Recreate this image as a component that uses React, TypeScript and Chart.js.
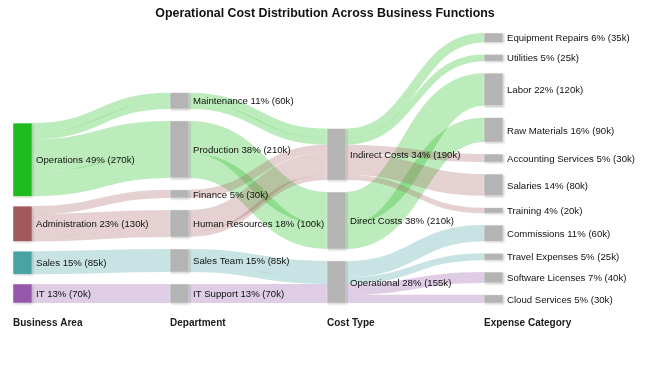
import React, { useEffect, useRef } from 'react';
import { Chart, registerables } from 'chart.js';

Chart.register(...registerables);

const chartTitle = 'Operational Cost Distribution Across Business Functions';
const columnTitles = ['Business Area', 'Department', 'Cost Type', 'Expense Category'];

const businessAreas = ['Operations', 'Administration', 'Sales', 'IT'];
const departments = ['Maintenance', 'Production', 'Finance', 'Human Resources', 'Sales Team', 'IT Support'];
const costTypes = ['Indirect Costs', 'Direct Costs', 'Operational'];
const expenseCategories = [
  'Equipment Repairs', 'Utilities', 'Labor', 'Raw Materials', 'Accounting Services',
  'Salaries', 'Training', 'Commissions', 'Travel Expenses', 'Software Licenses', 'Cloud Services',
];
// value (k) of each expense category; each one is a path through the four columns
const expenseValues = [35, 25, 120, 90, 30, 80, 20, 60, 25, 40, 30];
const pathArea = [0, 0, 0, 0, 1, 1, 1, 2, 2, 3, 3];
const pathDept = [0, 0, 1, 1, 2, 3, 3, 4, 4, 5, 5];
const pathCost = [0, 0, 1, 1, 0, 0, 0, 2, 2, 2, 2];

const areaColors = ['#1fbc1f', '#a05a5a', '#4aa3a3', '#9757ab'];
const areaLinkColors = [
  'rgba(34,190,34,0.30)',
  'rgba(160,90,90,0.28)',
  'rgba(74,163,163,0.30)',
  'rgba(150,85,170,0.30)',
];
const nodeGray = '#b4b4b4';
const FONT = '"Liberation Sans", Arial, sans-serif';

export default function App() {
  const ref = useRef<HTMLCanvasElement>(null);

  useEffect(() => {
    if (!ref.current) return;
    const columns = [businessAreas, departments, costTypes, expenseCategories];
    const pathIdx = [pathArea, pathDept, pathCost, expenseCategories.map((_, i) => i)];
    const sum = (a: number[]) => a.reduce((s, v) => s + v, 0);
    const total = sum(expenseValues);
    const nodeVals = columns.map((col, c) =>
      col.map((_, n) => expenseValues.reduce((s, v, p) => s + (pathIdx[c][p] === n ? v : 0), 0))
    );
    const colPad = [36, 44, 44, 44];
    const NODE_W = 19;
    const colExtent = nodeVals.map((v, c) => sum(v) + (v.length - 1) * colPad[c]);
    const YMAX = Math.max(...colExtent);
    const nodeY0 = nodeVals.map((vals, c) => {
      let y = YMAX - colExtent[c];
      return vals.map((v) => {
        const y0 = y;
        y += v + colPad[c];
        return y0;
      });
    });

    const sankeyPlugin = {
      id: 'sankey',
      afterDatasetsDraw(chart: any) {
        const { ctx, scales } = chart;
        const xs = scales.x;
        const ys = scales.y;
        const px = (c: number) => xs.getPixelForValue(c);
        const py = (v: number) => ys.getPixelForValue(v);
        ctx.save();
        // title
        ctx.fillStyle = '#111';
        ctx.font = `bold 12.4px ${FONT}`;
        ctx.textAlign = 'center';
        ctx.textBaseline = 'middle';
        ctx.fillText(chartTitle, chart.width / 2, 14);
        // links
        for (let c = 0; c < columns.length - 1; c++) {
          const src = pathIdx[c];
          const tgt = pathIdx[c + 1];
          const paths = expenseValues.map((_, p) => p);
          const srcTop: number[] = [];
          const tgtTop: number[] = [];
          const bySrc = [...paths].sort((a, b) => src[a] - src[b] || tgt[a] - tgt[b] || a - b);
          const offS = nodeY0[c].slice();
          bySrc.forEach((p) => {
            srcTop[p] = offS[src[p]];
            offS[src[p]] += expenseValues[p];
          });
          const byTgt = [...paths].sort((a, b) => tgt[a] - tgt[b] || src[a] - src[b] || a - b);
          const offT = nodeY0[c + 1].slice();
          byTgt.forEach((p) => {
            tgtTop[p] = offT[tgt[p]];
            offT[tgt[p]] += expenseValues[p];
          });
          paths.forEach((p) => {
            const v = expenseValues[p];
            const x0 = px(c) + NODE_W;
            const x1 = px(c + 1);
            const y0 = py(srcTop[p] + v / 2);
            const y1 = py(tgtTop[p] + v / 2);
            const xm = (x0 + x1) / 2;
            ctx.beginPath();
            ctx.moveTo(x0, y0);
            ctx.bezierCurveTo(xm, y0, xm, y1, x1, y1);
            ctx.lineWidth = Math.abs(py(v) - py(0));
            ctx.lineCap = 'butt';
            ctx.strokeStyle = areaLinkColors[pathArea[p]];
            ctx.stroke();
          });
        }
        // nodes
        columns.forEach((col, c) => {
          col.forEach((name, n) => {
            const v = nodeVals[c][n];
            const top = py(nodeY0[c][n]);
            const h = Math.abs(py(v) - py(0));
            const x = px(c);
            ctx.save();
            ctx.shadowColor = 'rgba(0,0,0,0.25)';
            ctx.shadowBlur = 2;
            ctx.shadowOffsetX = 1;
            ctx.shadowOffsetY = 1;
            ctx.fillStyle = c === 0 ? areaColors[n] : nodeGray;
            ctx.fillRect(x, top, NODE_W, h);
            ctx.restore();
            ctx.strokeStyle = 'rgba(255,255,255,0.7)';
            ctx.lineWidth = 0.6;
            ctx.strokeRect(x, top, NODE_W, h);
            const pct = Math.round((v / total) * 100);
            ctx.fillStyle = '#111';
            ctx.font = `9.6px ${FONT}`;
            ctx.textAlign = 'left';
            ctx.textBaseline = 'middle';
            ctx.fillText(`${name} ${pct}% (${v}k)`, x + NODE_W + 4, top + h / 2 + 1);
          });
          ctx.fillStyle = '#1a1a1a';
          ctx.font = `bold 10px ${FONT}`;
          ctx.textAlign = 'left';
          ctx.textBaseline = 'middle';
          ctx.fillText(columnTitles[c], px(c), chart.chartArea.bottom + 20);
        });
        ctx.restore();
      },
    };

    const chart = new Chart(ref.current, {
      type: 'scatter',
      data: { datasets: [{ data: [] }] },
      options: {
        animation: false,
        responsive: false,
        events: [],
        layout: { padding: { left: 13, right: 166, top: 33, bottom: 64 } },
        scales: {
          x: { type: 'linear', min: 0, max: columns.length - 1, display: false },
          y: { type: 'linear', min: 0, max: YMAX, reverse: true, display: false },
        },
        plugins: {
          legend: { display: false },
          tooltip: { enabled: false },
          title: { display: false },
        },
      },
      plugins: [sankeyPlugin],
    });
    return () => chart.destroy();
  }, []);

  return (
    <div style={{ position: 'fixed', left: 0, top: 0, width: 650, height: 367, background: '#fff' }}>
      <canvas ref={ref} width={650} height={367} />
    </div>
  );
}
